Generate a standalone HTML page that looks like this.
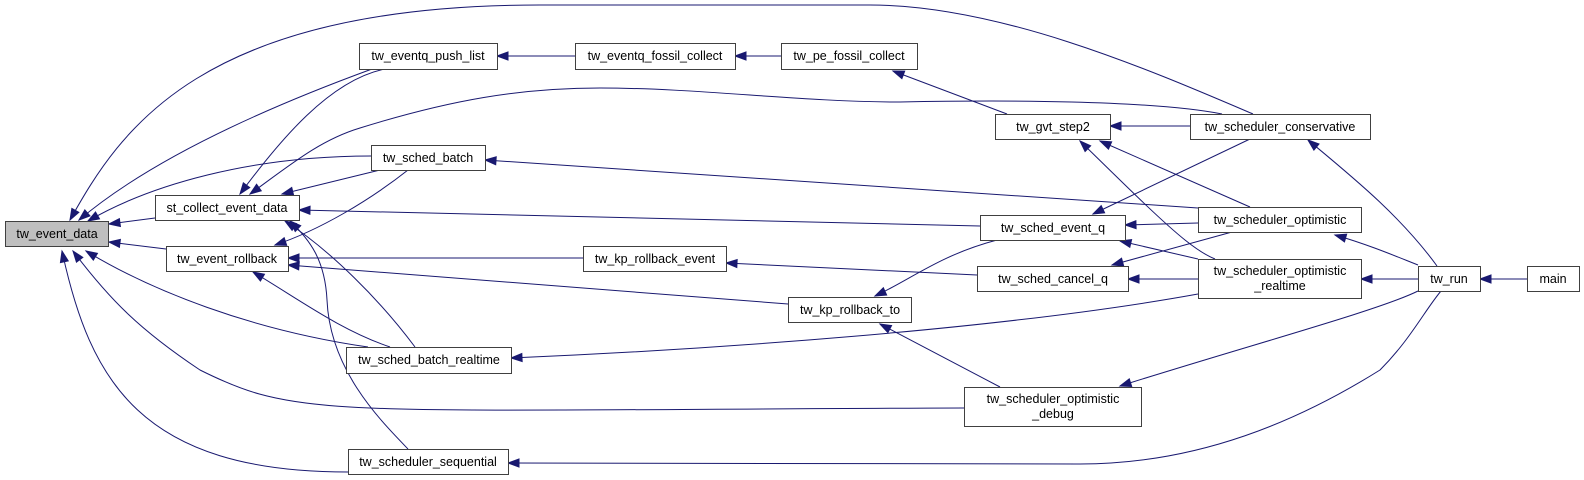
<!DOCTYPE html>
<html><head><meta charset="utf-8"><style>
html,body{margin:0;padding:0;background:#fff;}
svg{display:block;}
text{font-family:"Liberation Sans",sans-serif;font-size:12.5px;fill:#000;}
</style></head><body>
<svg width="1584" height="480" viewBox="0 0 1584 480" xmlns="http://www.w3.org/2000/svg">
<defs>
<marker id="a" markerWidth="12" markerHeight="10" refX="0" refY="4" orient="auto" markerUnits="userSpaceOnUse" overflow="visible">
<path d="M0,4 L11,0 L11,8 Z" fill="#191970" stroke="#191970" stroke-width="1"/>
</marker>
</defs>
<g fill="none" stroke="#191970" stroke-width="1" marker-start="url(#a)">
<path d="M70,220 C120,130 200,5 540,5 L870,5 C1000,5 1150,70 1253,114"/>
<path d="M79,220 C150,160 260,110 372,69"/>
<path d="M88,221 C150,185 250,156 371,156"/>
<path d="M109,224 L155,218"/>
<path d="M109,242 L166,249"/>
<path d="M86,251 C150,290 250,330 368,347"/>
<path d="M73,251 C110,300 140,330 200,370 C300,420 330,410 964,408"/>
<path d="M62,251 C90,380 140,472 348,472"/>
<path d="M240,194 C280,140 330,80 385,69"/>
<path d="M250,194 C290,165 320,140 360,128 C450,100 520,88 600,88 C700,88 800,102 900,102 C1000,100 1150,100 1222,114"/>
<path d="M282,194 L380,170"/>
<path d="M299,210 L980,226"/>
<path d="M285,221 C330,250 380,300 415,347"/>
<path d="M290,221 C310,240 325,260 327,300 C330,370 380,420 408,449"/>
<path d="M275,245 C320,230 370,200 408,170"/>
<path d="M288,258 L583,258"/>
<path d="M288,265 L788,304"/>
<path d="M253,272 C300,300 340,330 390,347"/>
<path d="M497,56 L575,56"/>
<path d="M735,56 L781,56"/>
<path d="M893,71 L1007,114"/>
<path d="M485,160 L1198,208"/>
<path d="M1110,126 L1190,126"/>
<path d="M1100,141 L1250,207"/>
<path d="M1080,141 C1120,180 1160,220 1185,240 C1200,252 1210,257 1215,259"/>
<path d="M1093,214 L1250,139"/>
<path d="M1125,225 L1198,223"/>
<path d="M1120,241 L1198,259"/>
<path d="M1112,265 L1232,232"/>
<path d="M1128,279 L1198,279"/>
<path d="M726,263 L977,275"/>
<path d="M875,296 C910,280 940,255 997,240"/>
<path d="M880,324 L1000,387"/>
<path d="M511,358 C700,350 1000,330 1198,294"/>
<path d="M1308,140 C1350,175 1400,215 1437,266"/>
<path d="M1335,235 C1370,245 1400,258 1418,265"/>
<path d="M1361,279 L1418,279"/>
<path d="M1120,386 C1250,345 1380,310 1418,291"/>
<path d="M508,463 L1080,464 C1200,464 1300,420 1380,370 C1410,340 1425,310 1441,291"/>
<path d="M1480,279 L1527,279"/>
</g>
<g stroke="#404040" stroke-width="1">
<rect x="5.5" y="221.5" width="103" height="25" fill="#bfbfbf"/>
<g fill="#fff">
<rect x="155.5" y="195.5" width="144" height="25"/>
<rect x="166.5" y="246.5" width="122" height="25"/>
<rect x="359.5" y="43.5" width="138" height="26"/>
<rect x="371.5" y="145.5" width="114" height="25"/>
<rect x="346.5" y="347.5" width="165" height="26"/>
<rect x="348.5" y="449.5" width="160" height="25"/>
<rect x="575.5" y="43.5" width="160" height="26"/>
<rect x="781.5" y="43.5" width="136" height="26"/>
<rect x="995.5" y="114.5" width="115" height="25"/>
<rect x="980.5" y="215.5" width="145" height="25"/>
<rect x="977.5" y="266.5" width="151" height="25"/>
<rect x="583.5" y="246.5" width="143" height="25"/>
<rect x="788.5" y="297.5" width="123" height="25"/>
<rect x="964.5" y="387.5" width="177" height="39"/>
<rect x="1190.5" y="114.5" width="180" height="25"/>
<rect x="1198.5" y="207.5" width="163" height="25"/>
<rect x="1198.5" y="259.5" width="163" height="39"/>
<rect x="1418.5" y="266.5" width="62" height="25"/>
<rect x="1527.5" y="266.5" width="52" height="25"/>
</g></g>
<g text-anchor="middle">
<text x="57" y="238">tw_event_data</text>
<text x="227" y="212">st_collect_event_data</text>
<text x="227" y="263">tw_event_rollback</text>
<text x="428" y="60">tw_eventq_push_list</text>
<text x="428" y="162">tw_sched_batch</text>
<text x="429" y="364">tw_sched_batch_realtime</text>
<text x="428" y="466">tw_scheduler_sequential</text>
<text x="655" y="60">tw_eventq_fossil_collect</text>
<text x="849" y="60">tw_pe_fossil_collect</text>
<text x="1053" y="131">tw_gvt_step2</text>
<text x="1053" y="232">tw_sched_event_q</text>
<text x="1053" y="283">tw_sched_cancel_q</text>
<text x="655" y="263">tw_kp_rollback_event</text>
<text x="850" y="314">tw_kp_rollback_to</text>
<text x="1053" y="403">tw_scheduler_optimistic</text>
<text x="1053" y="418">_debug</text>
<text x="1280" y="131">tw_scheduler_conservative</text>
<text x="1280" y="224">tw_scheduler_optimistic</text>
<text x="1280" y="275">tw_scheduler_optimistic</text>
<text x="1280" y="290">_realtime</text>
<text x="1449" y="283">tw_run</text>
<text x="1553" y="283">main</text>
</g>
</svg>
</body></html>
